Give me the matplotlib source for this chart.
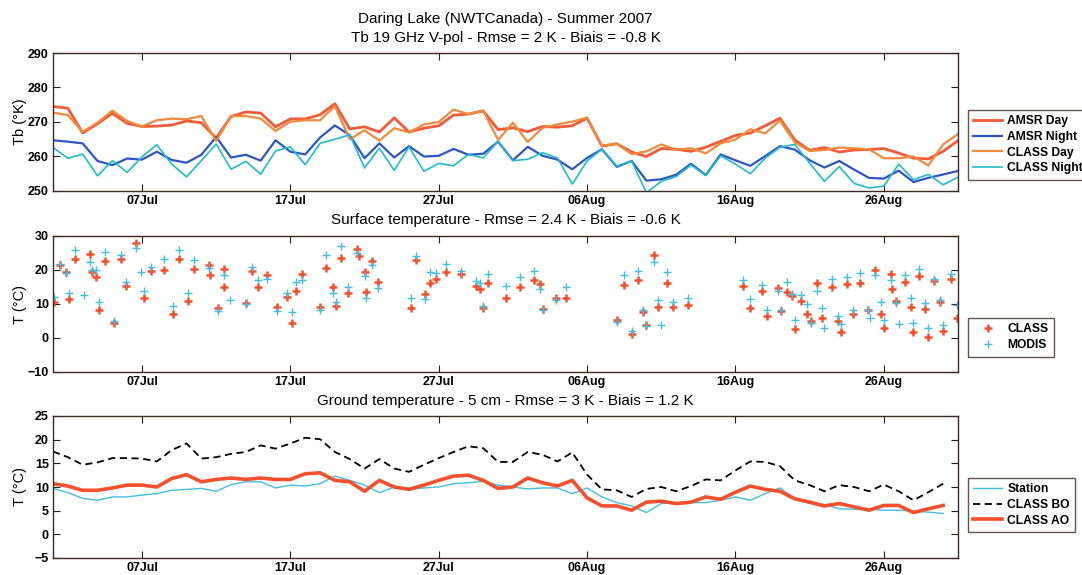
import numpy as np
import matplotlib
matplotlib.use("Agg")
import matplotlib.pyplot as plt

plt.rcParams['font.family'] = ['Liberation Sans', 'DejaVu Sans']

# ---------------- data ----------------
tick_pos = [6, 16, 26, 36, 46, 56]          # days since 01 Jul
tick_labels = ['07Jul', '17Jul', '27Jul', '06Aug', '16Aug', '26Aug']

days_tb = list(range(62))                    # 01 Jul .. 31 Aug
amsr_day = [274.5, 274.0, 266.8, 269.5, 272.5, 269.6, 268.7, 268.8, 269.1, 270.3,
            269.8, 265.3, 271.6, 272.9, 272.6, 268.6, 270.9, 270.9, 272.1, 275.3,
            268.0, 268.6, 267.1, 271.2, 267.1, 268.2, 268.9, 272.0, 272.3, 273.2,
            267.8, 268.3, 267.2, 268.7, 268.5, 268.9, 271.1, 263.0, 263.7, 261.3,
            260.0, 262.3, 262.1, 261.5, 262.7, 264.4, 266.1, 266.8, 268.9, 271.1,
            264.8, 261.8, 262.6, 261.3, 261.9, 262.0, 262.3, 261.0, 259.5, 259.3,
            261.5, 264.6]
amsr_night = [264.7, 264.3, 263.8, 258.7, 257.5, 259.4, 259.1, 261.4, 259.0, 258.2,
              260.5, 265.7, 259.7, 260.5, 258.8, 264.7, 261.4, 260.6, 265.5, 269.0,
              266.2, 259.5, 263.8, 259.7, 263.0, 260.0, 260.2, 262.2, 260.5, 260.8,
              264.3, 258.9, 262.8, 260.2, 259.1, 256.3, 259.6, 262.1, 257.0, 258.7,
              253.0, 253.4, 254.7, 257.9, 254.6, 260.6, 258.9, 257.3, 260.1, 263.0,
              262.0, 258.9, 256.8, 258.7, 256.2, 253.8, 253.6, 255.9, 252.6, 253.8,
              254.8, 255.8]
class_day = [272.7, 272.0, 267.2, 269.8, 273.3, 270.3, 268.7, 270.5, 271.0, 270.8,
             271.7, 264.5, 271.7, 271.7, 271.0, 267.4, 270.1, 270.5, 270.5, 274.6,
             265.0, 267.6, 264.6, 268.2, 267.0, 269.3, 270.0, 273.6, 272.3, 273.3,
             264.8, 269.8, 264.2, 268.3, 269.3, 270.1, 271.3, 263.1, 263.7, 260.7,
             261.5, 263.5, 262.0, 262.4, 260.9, 263.8, 264.9, 267.9, 266.7, 270.4,
             264.1, 261.6, 261.9, 262.6, 262.4, 262.1, 259.5, 259.5, 260.0, 257.4,
             263.5, 266.5]
class_night = [262.6, 259.5, 260.7, 254.4, 258.8, 255.4, 259.9, 263.4, 257.8, 254.1,
               258.8, 263.6, 256.3, 258.6, 254.9, 261.6, 262.8, 257.6, 263.8, 265.0,
               266.3, 256.7, 262.4, 256.0, 262.8, 255.7, 258.0, 257.3, 260.6, 259.6,
               264.4, 258.8, 259.2, 261.1, 259.6, 252.0, 258.7, 262.1, 257.2, 258.7,
               249.5, 252.8, 254.2, 257.5, 254.5, 260.2, 257.8, 255.0, 259.5, 262.7,
               263.5, 258.1, 252.8, 257.1, 252.2, 250.9, 251.4, 257.8, 253.3, 254.8,
               251.8, 254.0]

nan = float('nan')
surf_days = [0.1, 0.5, 0.9, 1.1, 1.5, 2.1, 2.5, 2.6, 2.9, 3.1, 3.5, 4.1, 4.6, 4.9, 5.6, 5.9,
             6.1, 6.6, 7.5, 8.1, 8.5, 9.1, 9.5, 10.5, 10.55, 11.1, 11.5, 11.55, 11.9,
             13.0, 13.4, 13.8, 14.4, 15.1, 15.8, 16.1, 16.4, 16.8, 18.0, 18.4, 18.9,
             19.1, 19.4, 19.9, 20.5, 20.6, 21.0, 21.1, 21.5, 21.9, 24.1, 24.5, 25.1,
             25.4, 25.8, 26.5, 27.5, 28.5, 28.8, 29.0, 29.3, 30.5, 31.5, 32.4, 32.8,
             33.0, 33.9, 34.6, 38.0, 38.5, 39.0, 39.4, 39.8, 40.0, 40.5, 40.8, 41.0,
             41.4, 41.8, 42.8, 46.5, 47.0, 47.8, 48.1, 48.9, 49.1, 49.5, 49.8, 50.0,
             50.4, 50.8, 51.1, 51.5, 51.8, 52.0, 52.5, 52.9, 53.1, 53.5, 53.9, 54.4,
             54.9, 55.1, 55.4, 55.8, 56.0, 56.5, 56.55, 56.8, 57.0, 57.4, 57.8, 58.0,
             58.4, 58.8, 59.0, 59.4, 59.8, 60.0, 60.5, 60.9]
surf_class = [10.5, 21.4, 19.4, 11.5, 23.3, nan, 24.6, 19.4, 18.0, 8.3, 22.6, 4.5, 23.1, 15.3, 28.0, nan,
              11.7, 19.7, 20.0, 7.1, 23.3, 11.0, 20.2, 21.4, 18.4, 8.7, 20.4, 14.9, nan,
              10.3, 19.7, 15.1, 18.4, 9.0, 12.2, 4.4, 13.9, 18.7, 9.0, 20.5, 14.9,
              9.5, 23.6, 13.2, 26.2, 24.1, 19.4, 13.4, 22.6, 16.5, 8.7, 22.9, 12.9,
              16.3, 17.5, 19.4, 18.7, 15.3, 14.4, 8.7, 16.3, 11.9, 15.1, 17.1, 15.8,
              8.5, 11.9, 11.9, 5.4, 15.5, 1.3, 17.0, 7.6, 3.7, 24.3, 9.0, nan,
              16.3, 9.0, 9.7, 15.3, 8.7, 13.9, 6.6, 14.6, 8.0, 13.6, 12.4, 2.7,
              11.0, 7.1, 5.1, 16.1, 5.8, nan, 15.1, 4.9, 1.7, 15.8, 7.1, 16.1,
              8.3, nan, 20.0, 7.1, 2.9, 18.7, 14.4, 11.0, nan, 16.5, 9.0, 1.7,
              18.3, 8.5, 0.3, 16.8, 10.5, 2.2, 17.4, 5.8]
surf_modis = [12.2, 21.9, 19.2, 13.1, 25.8, 12.7, 22.4, 20.1, 20.0, 10.7, 25.2, 4.9, 24.3, 16.5, 26.5, 19.4,
              13.9, 21.0, 23.3, 9.3, 25.8, 13.2, 22.9, 20.7, nan, 7.8, 18.4, nan, 11.3,
              10.0, 21.0, 17.1, 17.5, 7.8, 13.2, 7.6, 16.5, 17.1, 8.3, 24.3, 13.2,
              10.7, 27.0, 14.9, 25.0, nan, 18.3, 11.9, 21.4, 14.6, 11.7, 24.1, 11.5,
              19.4, 19.0, 21.7, 19.7, 16.8, 16.1, 9.3, 18.7, 15.3, 17.8, 19.7, 14.4,
              8.1, 11.3, 14.9, 4.7, 18.4, 2.2, 19.7, 8.1, 3.5, 22.3, 11.3, 3.9,
              19.4, 10.5, 11.9, 17.1, 11.5, 15.5, 8.3, 13.9, 8.3, 16.5, 12.9, 5.4,
              12.6, 10.0, 4.5, 13.9, 8.7, 2.9, 17.5, 6.4, 4.2, 17.8, 8.3, 19.2,
              8.3, 5.8, 18.4, 10.5, 5.4, 17.1, nan, 10.3, 4.2, 18.4, 11.7, 4.5,
              20.4, 10.3, 2.9, 17.5, 11.3, 3.9, 18.7, 9.7]

days_gt = list(range(61))                    # 01 Jul .. 30 Aug
station = [9.7, 8.8, 7.6, 7.2, 7.9, 7.9, 8.3, 8.6, 9.3, 9.5,
           9.7, 9.1, 10.5, 11.1, 11.1, 9.8, 10.4, 10.2, 10.7, 12.3,
           11.4, 10.4, 8.8, 10.0, 9.5, 9.8, 10.0, 10.7, 10.9, 11.2,
           10.4, 10.0, 9.6, 9.8, 9.8, 8.6, 9.8, 7.9, 6.7, 6.0,
           4.6, 6.5, 6.7, 6.7, 6.7, 7.2, 7.9, 7.2, 8.6, 9.8,
           7.5, 6.5, 6.3, 5.4, 5.3, 5.3, 5.1, 5.1, 4.9, 4.7, 4.4]
class_bo = [17.5, 16.3, 14.7, 15.2, 16.1, 16.1, 16.0, 15.4, 17.8, 19.2,
            16.0, 16.3, 17.0, 17.4, 18.8, 18.1, 19.2, 20.4, 20.1, 17.4,
            15.9, 13.9, 15.9, 13.9, 13.2, 14.7, 16.1, 17.4, 18.6, 18.2,
            15.3, 15.3, 17.4, 16.8, 15.4, 17.3, 12.6, 9.5, 9.3, 7.9,
            9.6, 10.0, 9.1, 10.2, 11.6, 11.4, 13.5, 15.4, 15.3, 14.4,
            11.4, 10.4, 9.1, 10.4, 10.0, 9.1, 10.5, 9.1, 7.2, 8.9, 10.7]
class_ao = [10.7, 10.2, 9.3, 9.3, 9.8, 10.4, 10.4, 10.0, 11.8, 12.6,
            11.1, 11.6, 11.9, 11.6, 11.9, 11.6, 11.6, 12.8, 13.0, 11.4,
            11.1, 9.1, 11.4, 10.0, 9.5, 10.4, 11.4, 12.3, 12.5, 11.4,
            9.7, 10.0, 11.9, 10.9, 10.2, 11.4, 7.7, 6.0, 6.0, 5.1,
            6.8, 7.0, 6.5, 6.8, 7.9, 7.4, 8.9, 10.2, 9.5, 9.1,
            7.5, 6.8, 6.0, 6.5, 5.8, 5.1, 6.1, 6.1, 4.6, 5.4, 6.1]

# ---------------- styling ----------------
W, H = 1082, 575
fig = plt.figure(figsize=(W / 100, H / 100), dpi=100)
fig.patch.set_facecolor('white')

SPINE = '#3a2a25'
C_AMSR_DAY = '#f25a38'
C_AMSR_NIGHT = '#2f55c4'
C_CLASS_DAY = '#ef8b3c'
C_CLASS_NIGHT = '#1fbcca'
C_RED = '#f4502e'
C_BLUE = '#45bde3'

L, R = 53, 958


def make_ax(top, bottom):
    ax = fig.add_axes([L / W, 1 - bottom / H, (R - L) / W, (bottom - top) / H])
    for s in ax.spines.values():
        s.set_color(SPINE)
        s.set_linewidth(1.0)
    ax.set_xlim(0, 61)
    ax.set_xticks(tick_pos)
    ax.set_xticklabels(tick_labels)
    ax.tick_params(direction='in', length=5, width=0.8, top=True, right=True,
                   labelsize=9, color='#222222', pad=3)
    return ax


def bold_ticks(ax):
    for lab in ax.get_xticklabels() + ax.get_yticklabels():
        lab.set_fontweight('bold')


def add_legend(ax, top_px):
    leg = ax.legend(loc='upper left', bbox_to_anchor=(968 / W, 1 - top_px / H),
                    bbox_transform=fig.transFigure, fontsize=8.7, handlelength=2.4,
                    borderpad=0.45, labelspacing=0.3, handletextpad=0.4,
                    borderaxespad=0, fancybox=False, numpoints=1)
    fr = leg.get_frame()
    fr.set_edgecolor(SPINE)
    fr.set_linewidth(1.0)
    fr.set_boxstyle('square', pad=0)
    for t in leg.get_texts():
        t.set_fontweight('bold')
    return leg


# ---- top panel ----
ax1 = make_ax(53, 191)
ax1.plot(days_tb, amsr_day, color=C_AMSR_DAY, lw=2.0, label='AMSR Day')
ax1.plot(days_tb, amsr_night, color=C_AMSR_NIGHT, lw=1.6, label='AMSR Night')
ax1.plot(days_tb, class_day, color=C_CLASS_DAY, lw=1.6, label='CLASS Day')
ax1.plot(days_tb, class_night, color=C_CLASS_NIGHT, lw=1.2, label='CLASS Night')
ax1.set_ylim(250, 290)
ax1.set_yticks([250, 260, 270, 280, 290])
bold_ticks(ax1)
ax1.set_ylabel('Tb (°K)', fontsize=10.5)
add_legend(ax1, 110)

# ---- middle panel ----
ax2 = make_ax(236, 372)
ax2.plot(surf_days, surf_class, linestyle='none', marker='+', ms=5.5, mew=1.8,
         color=C_RED, label='CLASS')
ax2.plot(surf_days, surf_modis, linestyle='none', marker='+', ms=5.5, mew=1.0,
         color=C_BLUE, label='MODIS')
ax2.set_ylim(-10, 30)
ax2.set_yticks([-10, 0, 10, 20, 30])
bold_ticks(ax2)
ax2.set_ylabel('T (°C)', fontsize=10.5)
add_legend(ax2, 318)

# ---- bottom panel ----
ax3 = make_ax(416, 558)
ax3.plot(days_gt, station, color=C_BLUE, lw=1.0, label='Station')
ax3.plot(days_gt, class_bo, color='black', lw=1.3, linestyle=(0, (4, 2.5)), label='CLASS BO')
ax3.plot(days_gt, class_ao, color=C_RED, lw=2.6, label='CLASS AO')
ax3.set_ylim(-5, 25)
ax3.set_yticks([-5, 0, 5, 10, 15, 20, 25])
bold_ticks(ax3)
ax3.set_ylabel('T (°C)', fontsize=10.5)
add_legend(ax3, 478)

# y labels centred around x = 20 px
for ax in (ax1, ax2, ax3):
    ax.yaxis.set_label_coords(-(53 - 27) / (R - L), 0.5)

# ---- titles ----
cx = (L + R) / 2 / W
fig.text(cx, 1 - 19 / H, 'Daring Lake (NWTCanada) - Summer 2007', ha='center', va='center', fontsize=11)
fig.text(cx, 1 - 38 / H, 'Tb 19 GHz V-pol - Rmse = 2 K - Biais = -0.8 K', ha='center', va='center', fontsize=11)
fig.text(cx, 1 - 220 / H, 'Surface temperature - Rmse = 2.4 K - Biais = -0.6 K', ha='center', va='center', fontsize=11)
fig.text(cx, 1 - 401 / H, 'Ground temperature - 5 cm - Rmse = 3 K - Biais = 1.2 K', ha='center', va='center', fontsize=11)

fig.savefig('out.png', dpi=100, facecolor='white')
